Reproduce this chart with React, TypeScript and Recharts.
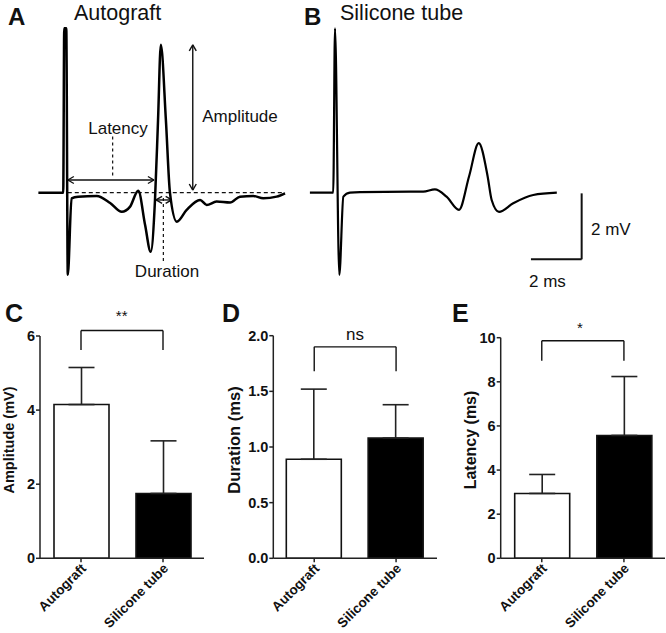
import React from 'react';
import { LineChart, Line, XAxis, YAxis, ReferenceLine, BarChart, Bar, Cell, ErrorBar } from 'recharts';

const FONT = '"Liberation Sans", Arial, Helvetica, sans-serif';

// representative CMAP traces, time in ms after stimulus, voltage in mV
const autograftTime = [-1.05, -0.07, -0.03, 0.05, 0.11, 0.26, 0.52, 1.25, 1.78, 2.24, 2.56, 2.89, 3.16, 3.38, 3.55, 3.67, 3.78, 3.98, 4.14, 4.41, 4.8, 5.33, 5.59, 5.98, 6.51, 6.9, 7.43, 7.82, 8.35, 8.68];
const autograftVolt = [0, 0, 4.98, 4.98, -2.49, -0.17, -0.12, -0.1, -0.31, -0.58, -0.43, 0.06, -0.98, -1.79, -0.22, 2.2, 4.48, 2.2, 0, -0.88, -0.52, -0.22, -0.37, -0.27, -0.3, -0.12, -0.1, -0.17, -0.12, -0.02];
const siliconeTime = [-0.99, -0.07, 0, 0.17, 0.33, 0.59, 0.99, 2.96, 3.48, 3.94, 4.4, 4.89, 5.29, 5.67, 6.02, 6.18, 6.47, 7.03, 7.82, 8.75];
const siliconeVolt = [0, 0, 4.98, -2.49, -0.12, 0, 0.02, 0.03, 0.03, 0.1, -0.12, -0.52, 0.5, 1.5, 0.5, -0.22, -0.58, -0.32, -0.07, 0];

// annotation marks on panel A (ms / mV)
const baselineSpan = [0.11, 8.68];
const latencySpan = [0.11, 3.51];
const latencyLevel = 0.385;
const latencyGuide = [1.88, 1.7, 0.485];
const amplitudeSpan = [4.48, 0.08];
const amplitudeAt = 5.04;
const durationSpan = [3.59, 4.21];
const durationLevel = -0.22;
const durationGuide = [3.88, -0.16, -2.13];
// scale bar on panel B: 2 ms x 2 mV
const scaleCorner = [9.73, -2.02];
const scaleLen = [2, 2];

// group summaries, mean and SD
const groups = ['Autograft', 'Silicone tube'];
const amplitudeMean = [4.15, 1.75];
const amplitudeSd = [1.0, 1.42];
const durationMean = [0.89, 1.08];
const durationSd = [0.63, 0.3];
const latencyMean = [2.94, 5.57];
const latencySd = [0.86, 2.67];
const amplitudeTicks = [0, 2, 4, 6];
const durationTicks = [0, 0.5, 1.0, 1.5, 2.0];
const latencyTicks = [0, 2, 4, 6, 8, 10];
const barFills = ['#ffffff', '#000000'];

const PX_MS = 25.35;
const PX_MV = 33;

function seg(key: string, x1: any, y1: number, x2: any, y2: number, dash?: string, w = 1.4) {
  return (
    <ReferenceLine
      key={key}
      segment={[{ x: x1, y: y1 }, { x: x2, y: y2 }]}
      stroke="#111"
      strokeWidth={w}
      strokeDasharray={dash}
      ifOverflow="visible"
    />
  );
}

// double headed arrow, heads drawn as open V's
function arrow(key: string, x1: number, y1: number, x2: number, y2: number) {
  const du = (x2 - x1) * PX_MS;
  const dw = (y2 - y1) * PX_MV;
  const len = Math.hypot(du, dw);
  const ux = du / len, uy = dw / len;
  const L = 7, a = Math.PI / 6;
  const head = (px: number, py: number, dx: number, dy: number, k: string) =>
    [a, -a].map((ang, i) => {
      const rx = dx * Math.cos(ang) - dy * Math.sin(ang);
      const ry = dx * Math.sin(ang) + dy * Math.cos(ang);
      return seg(`${k}${i}`, px, py, px + (rx * L) / PX_MS, py + (ry * L) / PX_MV);
    });
  return [
    seg(key, x1, y1, x2, y2),
    ...head(x2, y2, -ux, -uy, key + 'e'),
    ...head(x1, y1, ux, uy, key + 's'),
  ];
}

function Trace({ left, stimX, width, time, volt, strokeWidth, children }: any) {
  const top = 20, height = 270, baseY = 192.7;
  const data = time.map((t: number, i: number) => ({ t, v: volt[i] }));
  const xDom = [(left - stimX) / PX_MS, (left + width - stimX) / PX_MS];
  const yDom = [(baseY - (top + height)) / PX_MV, (baseY - top) / PX_MV];
  return (
    <div style={{ position: 'absolute', left, top }}>
      <LineChart width={width} height={height} data={data} margin={{ top: 0, right: 0, bottom: 0, left: 0 }}>
        <XAxis type="number" dataKey="t" domain={xDom} hide allowDataOverflow />
        <YAxis type="number" domain={yDom} hide allowDataOverflow />
        {children}
        <Line type="monotone" dataKey="v" stroke="#000" strokeWidth={strokeWidth} dot={false} isAnimationActive={false} />
      </LineChart>
    </div>
  );
}

const RotTick = (props: any) => {
  const { x, y, payload } = props;
  const ax = x + 6, ay = y + 5;
  return (
    <text x={ax} y={ay} transform={`rotate(-45 ${ax} ${ay})`} textAnchor="end" fontSize={13.5} fontWeight="bold" fontFamily={FONT} fill="#111">
      {payload.value}
    </text>
  );
};

function BarPanel({ left, width, axisW, plotTop, plotRight, mean, sd, domain, ticks, fmt, bracket }: any) {
  const data = groups.map((g, i) => ({ name: g, mean: mean[i], err: [0, sd[i]] }));
  const [top, leg] = bracket;
  return (
    <div style={{ position: 'absolute', left, top: 300 }}>
      <BarChart width={width} height={333} data={data} barSize={55}
        margin={{ top: plotTop - 300, right: width - (plotRight - left), bottom: 4.7, left: 0 }}>
        <XAxis dataKey="name" interval={0} height={70} tick={<RotTick />} tickSize={4} tickMargin={2}
          axisLine={{ stroke: '#222', strokeWidth: 1.5 }} tickLine={{ stroke: '#222', strokeWidth: 1.5 }} />
        <YAxis type="number" domain={domain} ticks={ticks} width={axisW} tickSize={4} tickMargin={1}
          tickFormatter={fmt} interval={0}
          tick={{ fontSize: 14.5, fontWeight: 'bold', fill: '#111', fontFamily: FONT }}
          axisLine={{ stroke: '#222', strokeWidth: 1.5 }} tickLine={{ stroke: '#222', strokeWidth: 1.5 }} />
        <Bar dataKey="mean" stroke="#111" strokeWidth={1.6} isAnimationActive={false}>
          {data.map((d, i) => <Cell key={d.name} fill={barFills[i]} />)}
          <ErrorBar dataKey="err" direction="y" width={13} stroke="#222" strokeWidth={1.6} />
        </Bar>
        {seg('bl', groups[0], leg, groups[0], top)}
        {seg('bt', groups[0], top, groups[1], top)}
        {seg('br', groups[1], top, groups[1], leg)}
      </BarChart>
    </div>
  );
}

export default function App() {
  const [sx, sy] = scaleCorner;
  return (
    <div style={{ position: 'absolute', left: 0, top: 0, width: 666, height: 633, background: '#fff', overflow: 'hidden', fontFamily: FONT }}>
      <Trace left={30} stimX={65} width={265} time={autograftTime} volt={autograftVolt} strokeWidth={2.5}>
        {seg('base', baselineSpan[0], 0, baselineSpan[1], 0, '4 3', 1.2)}
        {arrow('lat', latencySpan[0], latencyLevel, latencySpan[1], latencyLevel)}
        {seg('latg', latencyGuide[0], latencyGuide[1], latencyGuide[0], latencyGuide[2], '3 3', 1.2)}
        {arrow('amp', amplitudeAt, amplitudeSpan[0], amplitudeAt, amplitudeSpan[1])}
        {arrow('dur', durationSpan[0], durationLevel, durationSpan[1], durationLevel)}
        {seg('durg', durationGuide[0], durationGuide[1], durationGuide[0], durationGuide[2], '3 3', 1.2)}
      </Trace>
      <Trace left={300} stimX={335} width={300} time={siliconeTime} volt={siliconeVolt} strokeWidth={2.2}>
        {seg('sv', sx, sy, sx, sy + scaleLen[1], undefined, 2)}
        {seg('sh', sx - scaleLen[0], sy, sx, sy, undefined, 2)}
      </Trace>

      <BarPanel left={0} width={210} axisW={40} plotTop={336} plotRight={204}
        mean={amplitudeMean} sd={amplitudeSd} domain={[0, 6]} ticks={amplitudeTicks} bracket={[6.15, 5.62]} />
      <BarPanel left={225} width={215} axisW={48.3} plotTop={335.7} plotRight={437}
        mean={durationMean} sd={durationSd} domain={[0, 2]} ticks={durationTicks}
        fmt={(v: number) => v.toFixed(1)} bracket={[1.9, 1.68]} />
      <BarPanel left={445} width={221} axisW={55.7} plotTop={337.7} plotRight={665}
        mean={latencyMean} sd={latencySd} domain={[0, 10]} ticks={latencyTicks} bracket={[9.86, 8.96]} />

      <svg width={666} height={633} style={{ position: 'absolute', left: 0, top: 0, pointerEvents: 'none' }} fontFamily={FONT} fill="#111">
        <text x={8} y={25} fontSize={24} fontWeight="bold">A</text>
        <text x={74} y={19.8} fontSize={21.5}>Autograft</text>
        <text x={304} y={25} fontSize={24} fontWeight="bold">B</text>
        <text x={340} y={19.8} fontSize={21.5}>Silicone tube</text>
        <text x={118} y={134} fontSize={17} textAnchor="middle">Latency</text>
        <text x={240} y={121.5} fontSize={17} textAnchor="middle">Amplitude</text>
        <text x={167} y={277} fontSize={17} textAnchor="middle">Duration</text>
        <text x={591} y={235} fontSize={17}>2 mV</text>
        <text x={529} y={286.5} fontSize={17}>2 ms</text>

        <text x={5} y={322} fontSize={25} fontWeight="bold">C</text>
        <text x={222} y={322} fontSize={25} fontWeight="bold">D</text>
        <text x={452} y={322} fontSize={25} fontWeight="bold">E</text>
        <text x={121.7} y={321} fontSize={15} textAnchor="middle">**</text>
        <text x={355} y={340} fontSize={17} textAnchor="middle">ns</text>
        <text x={580} y={333} fontSize={15} textAnchor="middle">*</text>

        <text x={14} y={440} fontSize={14.5} fontWeight="bold" textAnchor="middle" transform="rotate(-90 14 440)">Amplitude (mV)</text>
        <text x={240} y={440} fontSize={16.5} fontWeight="bold" textAnchor="middle" transform="rotate(-90 240 440)">Duration (ms)</text>
        <text x={476} y={440} fontSize={16} fontWeight="bold" textAnchor="middle" transform="rotate(-90 476 440)">Latency (ms)</text>
      </svg>
    </div>
  );
}
